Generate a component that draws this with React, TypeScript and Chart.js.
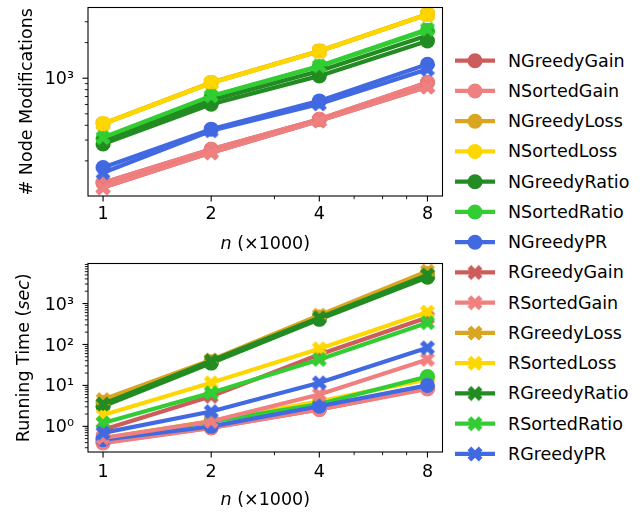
import React, { useEffect, useRef } from 'react';
import { Chart, registerables } from 'chart.js';

Chart.register(...registerables);

const FONT_FAMILY = "'DejaVu Sans', sans-serif";
const FONT_SIZE = 17.5;

// ---------------- data ----------------
const nValues = [1, 2, 4, 8];

const seriesNames = [
  'NGreedyGain', 'NSortedGain', 'NGreedyLoss', 'NSortedLoss', 'NGreedyRatio', 'NSortedRatio', 'NGreedyPR',
  'RGreedyGain', 'RSortedGain', 'RGreedyLoss', 'RSortedLoss', 'RGreedyRatio', 'RSortedRatio', 'RGreedyPR',
];
const seriesColors = [
  '#CD5C5C', '#F08080', '#DAA520', '#FFD700', '#228B22', '#32CD32', '#4169E1',
  '#CD5C5C', '#F08080', '#DAA520', '#FFD700', '#228B22', '#32CD32', '#4169E1',
];
const seriesMarkers = [
  'o', 'o', 'o', 'o', 'o', 'o', 'o',
  'X', 'X', 'X', 'X', 'X', 'X', 'X',
];

// # Node Modifications
const modsNGreedyGain = [131, 251, 450, 918];
const modsNSortedGain = [131, 251, 450, 918];
const modsNGreedyLoss = [413, 918, 1700, 3475];
const modsNSortedLoss = [413, 918, 1700, 3475];
const modsNGreedyRatio = [278, 603, 1046, 2066];
const modsNSortedRatio = [310, 700, 1255, 2540];
const modsNGreedyPR = [176, 371, 643, 1313];
const modsRGreedyGain = [119, 235, 436, 845];
const modsRSortedGain = [119, 235, 436, 845];
const modsRGreedyLoss = [410, 912, 1690, 3450];
const modsRSortedLoss = [410, 912, 1690, 3450];
const modsRGreedyRatio = [290, 650, 1150, 2300];
const modsRSortedRatio = [315, 709, 1270, 2595];
const modsRGreedyPR = [159, 360, 606, 1191];

// Running Time (sec)
const timeNGreedyGain = [0.4, 0.93, 2.6, 8.5];
const timeNSortedGain = [0.39, 0.91, 2.6, 8.2];
const timeNGreedyLoss = [3.8, 38, 470, 5400];
const timeNSortedLoss = [0.52, 1.35, 4.1, 14];
const timeNGreedyRatio = [3.1, 35, 410, 4400];
const timeNSortedRatio = [0.5, 1.3, 3.5, 16.5];
const timeNGreedyPR = [0.47, 1.0, 3.1, 10];
const timeRGreedyGain = [0.83, 5.4, 57, 455];
const timeRSortedGain = [0.52, 1.33, 6.0, 43];
const timeRGreedyLoss = [4.5, 42, 520, 6200];
const timeRSortedLoss = [1.9, 11.6, 79, 620];
const timeRGreedyRatio = [3.5, 40, 450, 5000];
const timeRSortedRatio = [1.21, 6.6, 43, 340];
const timeRGreedyPR = [0.69, 2.3, 11.6, 83];

// ticks
const xMajorTicks = [1, 2, 4, 8];
const xTickLabels = ['1', '2', '4', '8'];
const xMinorTicks = [3, 5, 6, 7];
const modsMajorTicks = [1000];
const modsTickLabels = ['10³'];
const modsMinorTicks = [200, 300, 400, 500, 600, 700, 800, 900, 2000, 3000];
const timeMajorTicks = [1, 10, 100, 1000];
const timeTickLabels = ['10⁰', '10¹', '10²', '10³'];
const timeMinorTicks = [
  0.3, 0.4, 0.5, 0.6, 0.7, 0.8, 0.9,
  2, 3, 4, 5, 6, 7, 8, 9,
  20, 30, 40, 50, 60, 70, 80, 90,
  200, 300, 400, 500, 600, 700, 800, 900,
  2000, 3000, 4000, 5000, 6000, 7000, 8000, 9000,
];

// axis limits
const X_MIN = 0.908;
const X_MAX = 8.81;
const MODS_MIN = 101;
const MODS_MAX = 3960;
const TIME_MIN = 0.236;
const TIME_MAX = 9500;

// ---------------- styling ----------------
const CANVAS_W = 450;
const CANVAS_H = 256;
const LINE_W = 4.2;
const MARKER_SIZE = 15;
const LEGEND_Y0 = 60.7;
const LEGEND_DY = 30.25;

type Part = { text: string; italic?: boolean };

function makeXMarker(color: string, size: number): HTMLCanvasElement {
  const dim = Math.ceil(size) + 3;
  const c = document.createElement('canvas');
  c.width = dim;
  c.height = dim;
  const g = c.getContext('2d')!;
  const verts = [[-1, -2], [0, -1], [1, -2], [2, -1], [1, 0], [2, 1], [1, 2], [0, 1], [-1, 2], [-2, 1], [-1, 0], [-2, -1]];
  const s = size / 4;
  g.translate(dim / 2, dim / 2);
  g.beginPath();
  verts.forEach(([vx, vy], k) => {
    if (k === 0) g.moveTo(vx * s, vy * s);
    else g.lineTo(vx * s, vy * s);
  });
  g.closePath();
  g.fillStyle = color;
  g.fill();
  return c;
}

function partFont(p: Part) {
  return `${p.italic ? 'italic ' : ''}${FONT_SIZE}px ${FONT_FAMILY}`;
}

function drawParts(ctx: CanvasRenderingContext2D, parts: Part[], cx: number, baseY: number) {
  let total = 0;
  const widths = parts.map((p) => {
    ctx.font = partFont(p);
    const w = ctx.measureText(p.text).width;
    total += w;
    return w;
  });
  let x = cx - total / 2;
  ctx.textBaseline = 'alphabetic';
  ctx.textAlign = 'left';
  parts.forEach((p, i) => {
    ctx.font = partFont(p);
    ctx.fillText(p.text, x, baseY);
    x += widths[i];
  });
}

function makeDecor(cfg: {
  yMajor: number[];
  yMinor: number[];
  yTitle: Part[];
  yTitleBaseX: number;
  xTitle: Part[];
  xTitleBaseY: number;
}) {
  return {
    id: 'axesDecor',
    afterDraw(chart: any) {
      const { ctx, chartArea: ca, scales } = chart;
      const xs = scales.x;
      const ys = scales.y;
      ctx.save();
      ctx.strokeStyle = '#000';
      ctx.fillStyle = '#000';
      const tick = (x1: number, y1: number, x2: number, y2: number, w: number) => {
        ctx.lineWidth = w;
        ctx.beginPath();
        ctx.moveTo(x1, y1);
        ctx.lineTo(x2, y2);
        ctx.stroke();
      };
      xMajorTicks.forEach((v) => {
        const px = xs.getPixelForValue(v);
        tick(px, ca.bottom, px, ca.bottom + 5.5, 1.1);
      });
      xMinorTicks.forEach((v) => {
        const px = xs.getPixelForValue(v);
        tick(px, ca.bottom, px, ca.bottom + 3.2, 0.9);
      });
      cfg.yMajor.forEach((v) => {
        const py = ys.getPixelForValue(v);
        tick(ca.left - 5.5, py, ca.left, py, 1.1);
      });
      cfg.yMinor.forEach((v) => {
        const py = ys.getPixelForValue(v);
        if (py < ca.top || py > ca.bottom) return;
        tick(ca.left - 3.2, py, ca.left, py, 0.9);
      });
      ctx.lineWidth = 1.1;
      ctx.strokeRect(ca.left, ca.top, ca.right - ca.left, ca.bottom - ca.top);

      // x title
      drawParts(ctx, cfg.xTitle, (ca.left + ca.right) / 2, cfg.xTitleBaseY);
      // y title
      ctx.save();
      ctx.translate(cfg.yTitleBaseX, (ca.top + ca.bottom) / 2);
      ctx.rotate(-Math.PI / 2);
      drawParts(ctx, cfg.yTitle, 0, 0);
      ctx.restore();
      ctx.restore();
    },
  };
}

function buildConfig(
  values: number[][],
  pointStyles: any[],
  yMin: number,
  yMax: number,
  yMajor: number[],
  yLabels: string[],
  yMinor: number[],
  yTitle: Part[],
  yTitleBaseX: number,
  xLabelPad: number,
): any {
  const tickFont = { family: FONT_FAMILY, size: FONT_SIZE };
  return {
    type: 'line',
    data: {
      datasets: values.map((vals, i) => ({
        label: seriesNames[i],
        data: nValues.map((n, j) => ({ x: n, y: vals[j] })),
        borderColor: seriesColors[i],
        backgroundColor: seriesColors[i],
        borderWidth: LINE_W,
        pointStyle: pointStyles[i],
        pointRadius: MARKER_SIZE / 2,
        pointHoverRadius: MARKER_SIZE / 2,
        pointBorderWidth: 0,
        pointBackgroundColor: seriesColors[i],
        tension: 0,
        clip: 0,
        order: values.length - i,
      })),
    },
    options: {
      animation: false,
      responsive: false,
      events: [],
      layout: { padding: { top: 7, right: 7, left: 0, bottom: 0 } },
      plugins: {
        legend: { display: false },
        tooltip: { enabled: false },
        title: { display: false },
      },
      scales: {
        x: {
          type: 'logarithmic',
          min: X_MIN,
          max: X_MAX,
          bounds: 'data',
          grid: { display: false, drawTicks: false },
          border: { display: false },
          ticks: {
            font: tickFont,
            color: '#000',
            padding: xLabelPad,
            maxRotation: 0,
            minRotation: 0,
            autoSkip: false,
            callback: (_v: any, idx: number) => xTickLabels[idx] ?? '',
          },
          afterBuildTicks: (s: any) => {
            s.ticks = xMajorTicks.map((v) => ({ value: v }));
          },
          afterFit: (s: any) => {
            s.height = CANVAS_H - 196;
            s.paddingLeft = 0;
            s.paddingRight = 0;
          },
        },
        y: {
          type: 'logarithmic',
          min: yMin,
          max: yMax,
          bounds: 'data',
          grid: { display: false, drawTicks: false },
          border: { display: false },
          ticks: {
            font: tickFont,
            color: '#000',
            padding: 14,
            labelOffset: 1.5,
            autoSkip: false,
            callback: (_v: any, idx: number) => yLabels[idx] ?? '',
          },
          afterBuildTicks: (s: any) => {
            s.ticks = yMajor.map((v) => ({ value: v }));
          },
          afterFit: (s: any) => {
            s.width = 88;
            s.paddingTop = 0;
            s.paddingBottom = 0;
          },
        },
      },
    },
    plugins: [
      makeDecor({
        yMajor,
        yMinor,
        yTitle,
        yTitleBaseX,
        xTitle: [{ text: 'n', italic: true }, { text: ' (×1000)' }],
        xTitleBaseY: 248.5,
      }),
    ],
  };
}

export default function App() {
  const topRef = useRef<HTMLCanvasElement>(null);
  const botRef = useRef<HTMLCanvasElement>(null);
  const legRef = useRef<HTMLCanvasElement>(null);

  useEffect(() => {
    const xMarkers = seriesColors.map((c) => makeXMarker(c, MARKER_SIZE));
    const pointStyles = seriesMarkers.map((m, i) => (m === 'X' ? xMarkers[i] : 'circle'));

    const modsValues = [
      modsNGreedyGain, modsNSortedGain, modsNGreedyLoss, modsNSortedLoss, modsNGreedyRatio, modsNSortedRatio, modsNGreedyPR,
      modsRGreedyGain, modsRSortedGain, modsRGreedyLoss, modsRSortedLoss, modsRGreedyRatio, modsRSortedRatio, modsRGreedyPR,
    ];
    const timeValues = [
      timeNGreedyGain, timeNSortedGain, timeNGreedyLoss, timeNSortedLoss, timeNGreedyRatio, timeNSortedRatio, timeNGreedyPR,
      timeRGreedyGain, timeRSortedGain, timeRGreedyLoss, timeRSortedLoss, timeRGreedyRatio, timeRSortedRatio, timeRGreedyPR,
    ];

    const c1 = new Chart(
      topRef.current!,
      buildConfig(modsValues, pointStyles, MODS_MIN, MODS_MAX, modsMajorTicks, modsTickLabels, modsMinorTicks,
        [{ text: '# Node Modifications' }], 31.5, 8),
    );
    const c2 = new Chart(
      botRef.current!,
      buildConfig(timeValues, pointStyles, TIME_MIN, TIME_MAX, timeMajorTicks, timeTickLabels, timeMinorTicks,
        [{ text: 'Running Time (' }, { text: 'sec', italic: true }, { text: ')' }], 28.5, 9.5),
    );

    // legend symbols
    const lc = legRef.current!;
    const g = lc.getContext('2d')!;
    g.clearRect(0, 0, lc.width, lc.height);
    seriesNames.forEach((_name, i) => {
      const cy = LEGEND_Y0 + i * LEGEND_DY;
      g.strokeStyle = seriesColors[i];
      g.lineWidth = LINE_W;
      g.beginPath();
      g.moveTo(10, cy);
      g.lineTo(50, cy);
      g.stroke();
      if (seriesMarkers[i] === 'X') {
        const img = xMarkers[i];
        g.drawImage(img, 30 - img.width / 2, cy - img.height / 2);
      } else {
        g.fillStyle = seriesColors[i];
        g.beginPath();
        g.arc(30, cy, MARKER_SIZE / 2, 0, Math.PI * 2);
        g.fill();
      }
    });

    return () => {
      c1.destroy();
      c2.destroy();
    };
  }, []);

  return (
    <div
      style={{
        position: 'fixed',
        left: 0,
        top: 0,
        width: 644,
        height: 513,
        background: '#fff',
        overflow: 'hidden',
      }}
    >
      <canvas ref={topRef} width={CANVAS_W} height={CANVAS_H} style={{ position: 'absolute', left: 0, top: 0 }} />
      <canvas ref={botRef} width={CANVAS_W} height={CANVAS_H} style={{ position: 'absolute', left: 0, top: 256 }} />
      <canvas ref={legRef} width={60} height={513} style={{ position: 'absolute', left: 445, top: 0 }} />
      {seriesNames.map((name, i) => (
        <div
          key={name}
          style={{
            position: 'absolute',
            left: 508,
            top: LEGEND_Y0 + i * LEGEND_DY - 10,
            height: 20,
            lineHeight: '20px',
            fontFamily: FONT_FAMILY,
            fontSize: FONT_SIZE,
            color: '#000',
            whiteSpace: 'nowrap',
          }}
        >
          {name}
        </div>
      ))}
    </div>
  );
}
